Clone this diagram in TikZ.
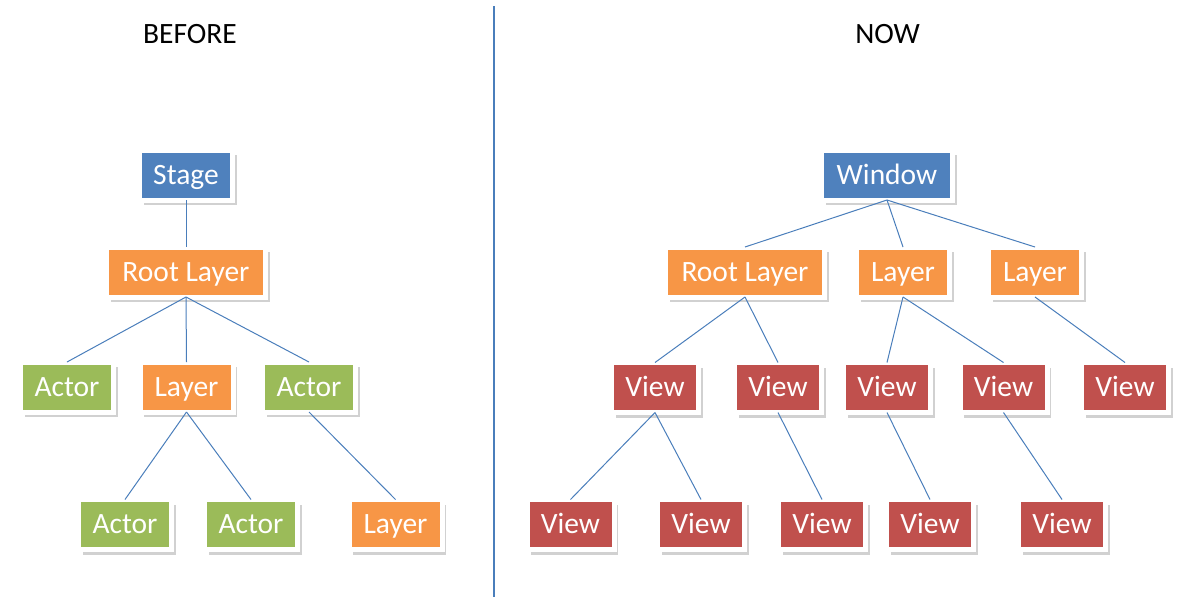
\documentclass[tikz,border=0pt]{standalone}
\usepackage{fontspec}
\setmainfont{Carlito}
\usepackage{xcolor}
\usetikzlibrary{shadows}

\definecolor{boxblue}{HTML}{4F81BD}
\definecolor{boxorange}{HTML}{F79646}
\definecolor{boxgreen}{HTML}{9BBB59}
\definecolor{boxred}{HTML}{C0504D}
\definecolor{linkblue}{HTML}{4A7EBB}

\begin{document}
\begin{tikzpicture}
        [
        x=1pt, y=-1pt,
        box/.style={rectangle, draw=white, line width=5pt, inner sep=0pt, outer sep=0pt, minimum height=50pt, text=white, text height=18.7pt, text depth=0pt, font=\fontsize{29.5}{35}\selectfont, drop shadow={shadow xshift=4pt, shadow yshift=-5pt, opacity=0.18, fill=black}},
        top/.style={box, fill=boxblue},
        layer/.style={box, fill=boxorange, minimum width=93pt},
        actor/.style={box, fill=boxgreen, minimum width=93pt},
        view/.style={box, fill=boxred, minimum width=87pt},
        title/.style={text height=18.7pt, text depth=0pt, inner sep=0pt, font=\fontsize{29.5}{35}\selectfont},
        link/.style={draw=linkblue, line width=1pt}
        ]

        \useasboundingbox (0,0) rectangle (1201,606);

        \node[title] (before) at (190,34) {BEFORE};
        \node[title] (now) at (887.5,34) {NOW};

        \coordinate (divtop) at (494,6);
        \coordinate (divbot) at (494,597);
        \draw[link, line width=1.5pt] (divtop) -- (divbot);

        % before
        \node[top, minimum width=93pt] (stage) at (186,175) {Stage};
        \node[layer, minimum width=159pt] (rootL) at (186,272) {Root Layer};
        \node[actor] (actorA) at (67,387) {Actor};
        \node[layer] (layerA) at (186.5,387) {Layer};
        \node[actor] (actorB) at (309,387) {Actor};
        \node[actor] (actorC) at (125,524.5) {Actor};
        \node[actor] (actorD) at (251,524.5) {Actor};
        \node[layer] (layerB) at (395.5,524.5) {Layer};

        \draw[link] (stage.south) -- (rootL.north);
        \draw[link] (rootL.south) -- (actorA.north);
        \draw[link] (rootL.south) -- (layerA.north);
        \draw[link] (rootL.south) -- (actorB.north);
        \draw[link] (layerA.south) -- (actorC.north);
        \draw[link] (layerA.south) -- (actorD.north);
        \draw[link] (actorB.south) -- (layerB.north);

        % now
        \node[top, minimum width=131pt] (window) at (887,175) {Window};
        \node[layer, minimum width=159pt] (rootR) at (745,272) {Root Layer};
        \node[layer] (layerC) at (903,272) {Layer};
        \node[layer] (layerD) at (1035,272) {Layer};
        \node[view] (viewA) at (655,387.5) {View};
        \node[view] (viewB) at (778,387.5) {View};
        \node[view] (viewC) at (887,387.5) {View};
        \node[view] (viewD) at (1003.5,387.5) {View};
        \node[view] (viewE) at (1125,387.5) {View};
        \node[view] (viewF) at (570.5,524.5) {View};
        \node[view] (viewG) at (701,524.5) {View};
        \node[view] (viewH) at (822,524.5) {View};
        \node[view] (viewI) at (930,524.5) {View};
        \node[view] (viewJ) at (1062,524.5) {View};

        \draw[link] (window.south) -- (rootR.north);
        \draw[link] (window.south) -- (layerC.north);
        \draw[link] (window.south) -- (layerD.north);
        \draw[link] (rootR.south) -- (viewA.north);
        \draw[link] (rootR.south) -- (viewB.north);
        \draw[link] (layerC.south) -- (viewC.north);
        \draw[link] (layerC.south) -- (viewD.north);
        \draw[link] (layerD.south) -- (viewE.north);
        \draw[link] (viewA.south) -- (viewF.north);
        \draw[link] (viewA.south) -- (viewG.north);
        \draw[link] (viewB.south) -- (viewH.north);
        \draw[link] (viewC.south) -- (viewI.north);
        \draw[link] (viewD.south) -- (viewJ.north);

    \end{tikzpicture}
\end{document}
